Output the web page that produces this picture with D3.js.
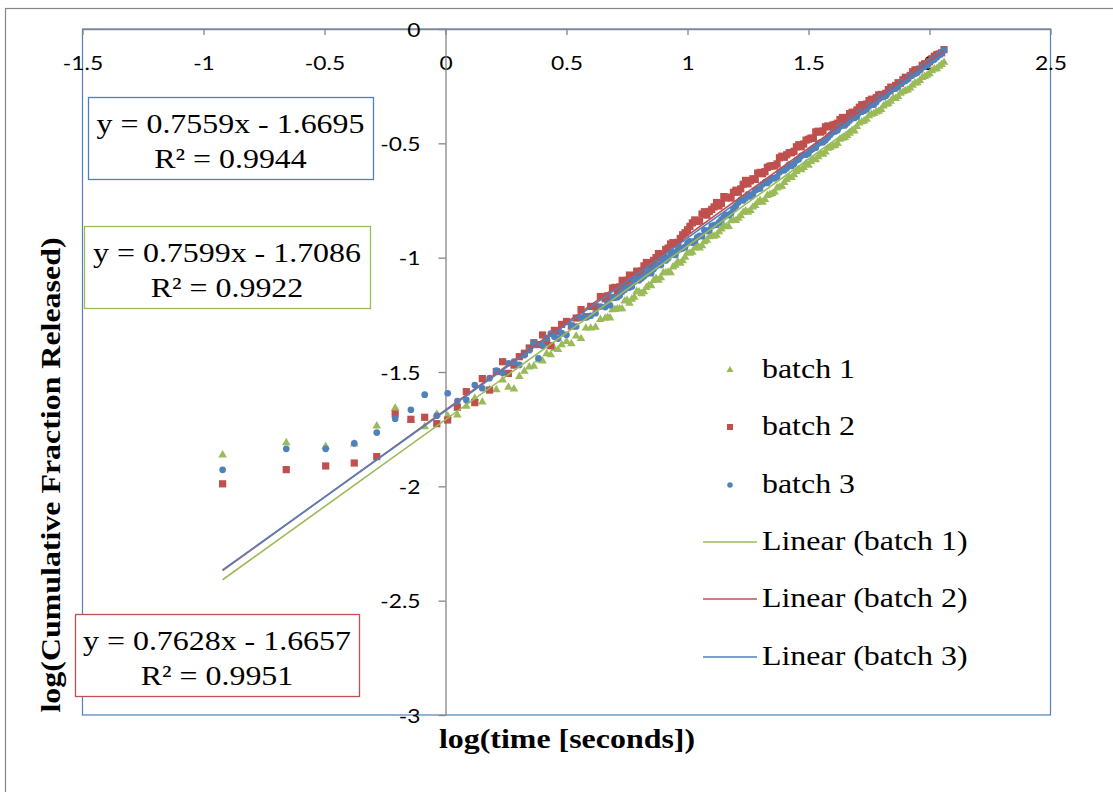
<!DOCTYPE html>
<html>
<head>
<meta charset="utf-8">
<script src="https://cdn.jsdelivr.net/npm/d3@7"></script>
<style>
  html, body { margin: 0; padding: 0; background: #fff; }
  svg { display: block; }
</style>
</head>
<body>
<svg id="chart" width="1113" height="792"></svg>
<script>
// log10 of elapsed time (s), shared by the three batches
const logTime = [
  -0.921, -0.658, -0.495, -0.377, -0.284, -0.208, -0.143, -0.086, -0.036, 0.009,
  0.049, 0.086, 0.121, 0.152, 0.182, 0.210, 0.236, 0.260, 0.283, 0.305,
  0.326, 0.346, 0.365, 0.384, 0.401, 0.418, 0.435, 0.450, 0.465, 0.480,
  0.50, 0.52, 0.54, 0.56, 0.58, 0.60, 0.62, 0.64,
  0.66, 0.67, 0.68, 0.69, 0.70, 0.71, 0.72, 0.73, 0.74, 0.75,
  0.76, 0.77, 0.78, 0.79, 0.80, 0.81, 0.82, 0.83, 0.84, 0.85,
  0.86, 0.87, 0.88, 0.89, 0.90, 0.91, 0.92, 0.93, 0.94, 0.95,
  0.96, 0.97, 0.98, 0.99, 1.00, 1.01, 1.02, 1.03, 1.04, 1.05,
  1.06, 1.07, 1.08, 1.09, 1.10, 1.11, 1.12, 1.13, 1.14, 1.15,
  1.16, 1.17, 1.18, 1.19, 1.20, 1.21, 1.22, 1.23, 1.24, 1.25,
  1.26, 1.27, 1.28, 1.29, 1.30, 1.31, 1.32, 1.33, 1.34, 1.35,
  1.36, 1.37, 1.38, 1.39, 1.40, 1.41, 1.42, 1.43, 1.44, 1.45,
  1.46, 1.47, 1.48, 1.49, 1.50, 1.51, 1.52, 1.53, 1.54, 1.55,
  1.56, 1.57, 1.58, 1.59, 1.60, 1.61, 1.62, 1.63, 1.64, 1.65,
  1.66, 1.67, 1.68, 1.69, 1.70, 1.71, 1.72, 1.73, 1.74, 1.75,
  1.76, 1.77, 1.78, 1.79, 1.80, 1.81, 1.82, 1.83, 1.84, 1.85,
  1.86, 1.87, 1.88, 1.89, 1.90, 1.91, 1.92, 1.93, 1.94, 1.95,
  1.96, 1.97, 1.98, 1.99, 2.00, 2.01, 2.02, 2.03, 2.04, 2.05,
  2.06
];

// log10 of cumulative fraction released
const batch1 = [
  -1.863, -1.809, -1.826, -1.815, -1.736, -1.658, -1.712, -1.739, -1.685, -1.692,
  -1.688, -1.650, -1.615, -1.631, -1.578, -1.578, -1.535, -1.567, -1.574, -1.520,
  -1.497, -1.478, -1.475, -1.448, -1.452, -1.420, -1.425, -1.398, -1.402, -1.381,
  -1.367, -1.376, -1.343, -1.354, -1.308, -1.308, -1.304, -1.270,
  -1.265, -1.262, -1.264, -1.228, -1.227, -1.224, -1.223, -1.224, -1.190, -1.186,
  -1.199, -1.182, -1.173, -1.148, -1.150, -1.158, -1.149, -1.130, -1.122, -1.123,
  -1.100, -1.091, -1.099, -1.088, -1.066, -1.066, -1.064, -1.066, -1.041, -1.033,
  -1.018, -1.025, -1.014, -0.998, -0.979, -0.981, -0.976, -0.958, -0.946, -0.958,
  -0.948, -0.930, -0.924, -0.909, -0.904, -0.906, -0.902, -0.887, -0.875, -0.861,
  -0.865, -0.864, -0.839, -0.837, -0.838, -0.828, -0.817, -0.802, -0.796, -0.801,
  -0.794, -0.779, -0.772, -0.759, -0.750, -0.758, -0.746, -0.728, -0.724, -0.720,
  -0.713, -0.695, -0.691, -0.688, -0.671, -0.658, -0.648, -0.650, -0.638, -0.623,
  -0.614, -0.616, -0.606, -0.588, -0.596, -0.580, -0.571, -0.572, -0.559, -0.546,
  -0.548, -0.538, -0.522, -0.518, -0.512, -0.510, -0.501, -0.482, -0.478, -0.475,
  -0.467, -0.456, -0.445, -0.446, -0.427, -0.411, -0.406, -0.402, -0.395, -0.379,
  -0.373, -0.370, -0.363, -0.360, -0.352, -0.337, -0.329, -0.327, -0.316, -0.302,
  -0.304, -0.295, -0.281, -0.275, -0.270, -0.267, -0.258, -0.246, -0.236, -0.235,
  -0.225, -0.212, -0.208, -0.202, -0.196, -0.183, -0.175, -0.174, -0.163, -0.155,
  -0.146
];
const batch2 = [
  -1.989, -1.927, -1.911, -1.898, -1.870, -1.683, -1.707, -1.698, -1.726, -1.710,
  -1.654, -1.586, -1.634, -1.529, -1.579, -1.498, -1.455, -1.506, -1.470, -1.433,
  -1.418, -1.395, -1.372, -1.380, -1.338, -1.370, -1.385, -1.318, -1.322, -1.292,
  -1.279, -1.299, -1.264, -1.227, -1.258, -1.213, -1.215, -1.170,
  -1.180, -1.167, -1.175, -1.133, -1.130, -1.144, -1.128, -1.099, -1.126, -1.099,
  -1.076, -1.096, -1.079, -1.059, -1.075, -1.058, -1.036, -1.021, -1.040, -1.023,
  -1.012, -1.000, -0.982, -1.001, -0.989, -0.964, -0.958, -0.940, -0.934, -0.941,
  -0.933, -0.916, -0.900, -0.891, -0.878, -0.863, -0.848, -0.835, -0.842, -0.839,
  -0.809, -0.799, -0.814, -0.798, -0.789, -0.778, -0.759, -0.774, -0.763, -0.733,
  -0.739, -0.735, -0.739, -0.714, -0.705, -0.714, -0.699, -0.679, -0.662, -0.677,
  -0.664, -0.655, -0.658, -0.630, -0.627, -0.633, -0.624, -0.605, -0.600, -0.598,
  -0.599, -0.590, -0.563, -0.556, -0.561, -0.550, -0.541, -0.541, -0.535, -0.515,
  -0.506, -0.515, -0.503, -0.486, -0.482, -0.477, -0.478, -0.450, -0.447, -0.451,
  -0.446, -0.428, -0.424, -0.427, -0.420, -0.417, -0.412, -0.396, -0.387, -0.393,
  -0.387, -0.370, -0.364, -0.365, -0.354, -0.342, -0.331, -0.333, -0.328, -0.313,
  -0.307, -0.309, -0.300, -0.288, -0.286, -0.287, -0.281, -0.265, -0.254, -0.259,
  -0.247, -0.235, -0.237, -0.222, -0.211, -0.213, -0.203, -0.187, -0.179, -0.179,
  -0.175, -0.159, -0.152, -0.154, -0.143, -0.130, -0.119, -0.112, -0.109, -0.104,
  -0.090
];
const batch3 = [
  -1.928, -1.836, -1.836, -1.812, -1.765, -1.704, -1.665, -1.599, -1.691, -1.593,
  -1.627, -1.622, -1.557, -1.571, -1.527, -1.494, -1.503, -1.462, -1.455, -1.469,
  -1.426, -1.405, -1.374, -1.440, -1.385, -1.352, -1.332, -1.346, -1.354, -1.330,
  -1.337, -1.297, -1.301, -1.263, -1.261, -1.254, -1.243, -1.214,
  -1.216, -1.199, -1.208, -1.172, -1.175, -1.173, -1.165, -1.149, -1.140, -1.130,
  -1.131, -1.126, -1.105, -1.094, -1.099, -1.090, -1.081, -1.071, -1.057, -1.068,
  -1.050, -1.037, -1.030, -1.032, -1.009, -1.012, -1.003, -0.987, -0.977, -0.988,
  -0.968, -0.962, -0.959, -0.953, -0.936, -0.929, -0.934, -0.927, -0.911, -0.904,
  -0.906, -0.880, -0.883, -0.880, -0.862, -0.857, -0.856, -0.846, -0.834, -0.822,
  -0.813, -0.814, -0.806, -0.787, -0.774, -0.759, -0.747, -0.750, -0.740, -0.723,
  -0.732, -0.723, -0.705, -0.700, -0.697, -0.679, -0.670, -0.673, -0.663, -0.652,
  -0.653, -0.646, -0.627, -0.618, -0.618, -0.609, -0.593, -0.599, -0.590, -0.575,
  -0.570, -0.555, -0.550, -0.550, -0.544, -0.529, -0.523, -0.519, -0.501, -0.496,
  -0.495, -0.487, -0.475, -0.463, -0.452, -0.448, -0.443, -0.426, -0.421, -0.422,
  -0.411, -0.400, -0.390, -0.389, -0.383, -0.365, -0.362, -0.357, -0.351, -0.338,
  -0.330, -0.331, -0.319, -0.306, -0.298, -0.297, -0.292, -0.278, -0.271, -0.259,
  -0.260, -0.253, -0.238, -0.232, -0.227, -0.220, -0.206, -0.200, -0.196, -0.190,
  -0.178, -0.168, -0.165, -0.156, -0.145, -0.136, -0.133, -0.124, -0.112, -0.103,
  -0.092
];

const seriesNames = ["batch 1", "batch 2", "batch 3"];
const seriesColors = ["#9BBB59", "#C0504D", "#4F81BD"];
const seriesSymbols = [d3.symbolTriangle, d3.symbolSquare, d3.symbolCircle];

// linear trend line fits (slope, intercept, R²)
const slopes = [0.7599, 0.7628, 0.7559];
const intercepts = [-1.7086, -1.6657, -1.6695];
const rSquared = [0.9922, 0.9951, 0.9944];

const xTicks = [-1.5, -1, -0.5, 0, 0.5, 1, 1.5, 2, 2.5];
const yTicks = [0, -0.5, -1, -1.5, -2, -2.5, -3];

const xTitle = "log(time [seconds])";
const yTitle = "log(Cumulative Fraction Released)";

// ---------------------------------------------------------------
const svg = d3.select("#chart");
const AXIS_GREY = "#868686";
const SX = 1.14;                       // horizontal text stretch
const SERIF = "'Liberation Serif', 'Times New Roman', serif";
const SANS = "Lato, 'Open Sans', sans-serif";

const x = d3.scaleLinear().domain([-1.5, 2.5]).range([82.5, 1050.5]);
const y = d3.scaleLinear().domain([0, -3]).range([29, 715]);

// chart area frame
svg.append("rect")
  .attr("x", 5.5).attr("y", 8.5).attr("width", 1130).attr("height", 820)
  .attr("fill", "#fff").attr("stroke", AXIS_GREY).attr("stroke-width", 1.2);

// plot area frame
svg.append("rect")
  .attr("x", x(-1.5)).attr("y", y(0))
  .attr("width", x(2.5) - x(-1.5)).attr("height", y(-3) - y(0))
  .attr("fill", "none").attr("stroke", "#4F81BD").attr("stroke-width", 1.2);

// x axis crossing at y = 0 (top of the plot)
const gx = svg.append("g")
  .attr("transform", `translate(0,${y(0)})`)
  .call(d3.axisBottom(x).tickValues(xTicks).tickSize(6).tickSizeOuter(0)
    .tickFormat(d => String(d)));
gx.select(".domain").attr("stroke", AXIS_GREY).attr("stroke-width", 1.3);
gx.selectAll(".tick line").attr("stroke", AXIS_GREY).attr("stroke-width", 1.3);
gx.selectAll(".tick text")
  .attr("y", 41).attr("dy", null)
  .attr("transform", `scale(${SX},1)`)
  .attr("fill", "#000")
  .style("font-family", SANS).style("font-size", "20px");

// y axis crossing at x = 0
const gy = svg.append("g")
  .attr("transform", `translate(${x(0)},0)`)
  .call(d3.axisLeft(y).tickValues(yTicks).tickSize(7).tickSizeOuter(0)
    .tickFormat(d => String(d)));
gy.select(".domain").attr("stroke", AXIS_GREY).attr("stroke-width", 1.3);
gy.selectAll(".tick line").attr("stroke", AXIS_GREY).attr("stroke-width", 1.3);
gy.selectAll(".tick text")
  .attr("x", 0).attr("y", 7).attr("dy", null)
  .attr("text-anchor", "end")
  .attr("transform", `translate(-25,0) scale(${SX},1)`)
  .attr("fill", "#000")
  .style("font-family", SANS).style("font-size", "20px");

// scatter markers, one layer per batch
const batches = [batch1, batch2, batch3];
batches.forEach((vals, i) => {
  const sym = d3.symbol().type(seriesSymbols[i]).size([32, 52, 35][i]);
  svg.append("g")
    .selectAll("path")
    .data(logTime.map((t, j) => [t, vals[j]]))
    .join("path")
      .attr("d", sym)
      .attr("transform", d => `translate(${x(d[0])},${y(d[1])})`)
      .attr("fill", seriesColors[i]);
});

// linear trend lines over the span of the data
const xExt = d3.extent(logTime);
const line = d3.line().x(d => x(d[0])).y(d => y(d[1]));
slopes.forEach((m, i) => {
  const pts = xExt.map(v => [v, m * v + intercepts[i]]);
  svg.append("path")
    .attr("d", line(pts))
    .attr("fill", "none")
    .attr("stroke", seriesColors[i])
    .attr("stroke-width", 1.6);
});

// helper for stretched text
function label(g, str, tx, ty, opts = {}) {
  return g.append("text")
    .attr("transform", `translate(${tx},${ty})${opts.rotate ? ` rotate(${opts.rotate})` : ""} scale(${SX},1)`)
    .attr("text-anchor", opts.anchor || "start")
    .style("font-family", opts.family || SERIF)
    .style("font-size", (opts.size || 28) + "px")
    .style("font-weight", opts.weight || "normal")
    .attr("fill", "#000")
    .text(str);
}

// trend line equation boxes
const fmtEq = (m, b) => `y = ${m.toFixed(4)}x - ${Math.abs(b).toFixed(4)}`;
const eqBoxes = [
  { i: 2, x0: 88, y0: 97, w: 285, h: 82 },
  { i: 0, x0: 84, y0: 226, w: 286, h: 82 },
  { i: 1, x0: 75, y0: 614, w: 284, h: 82 }
];
eqBoxes.forEach(bx => {
  const g = svg.append("g");
  g.append("rect")
    .attr("x", bx.x0 + 0.5).attr("y", bx.y0 + 0.5)
    .attr("width", bx.w).attr("height", bx.h)
    .attr("fill", "#fff").attr("stroke", seriesColors[bx.i]).attr("stroke-width", 1.3);
  const cx = bx.x0 + bx.w / 2;
  label(g, fmtEq(slopes[bx.i], intercepts[bx.i]), cx, bx.y0 + 36, { anchor: "middle" });
  label(g, `R² = ${rSquared[bx.i].toFixed(4)}`, cx, bx.y0 + 71, { anchor: "middle" });
});

// legend
const legend = svg.append("g");
const legY = [370, 427, 485, 542, 599, 657];
seriesNames.forEach((name, i) => {
  const sym = d3.symbol().type(seriesSymbols[i]).size([22, 36, 24][i]);
  legend.append("path")
    .attr("d", sym)
    .attr("transform", `translate(730,${legY[i]})`)
    .attr("fill", seriesColors[i]);
  label(legend, name, 762, legY[i] + 8);
});
seriesNames.forEach((name, i) => {
  const ly = legY[i + 3];
  legend.append("line")
    .attr("x1", 703).attr("x2", 757).attr("y1", ly).attr("y2", ly)
    .attr("stroke", seriesColors[i]).attr("stroke-width", 1.6);
  label(legend, `Linear (${name})`, 762, ly + 8);
});

// axis titles
label(svg, xTitle, 567, 748, { anchor: "middle", weight: "bold" });
label(svg, yTitle, 60, 475, { anchor: "middle", weight: "bold", rotate: -90 });
</script>
</body>
</html>
